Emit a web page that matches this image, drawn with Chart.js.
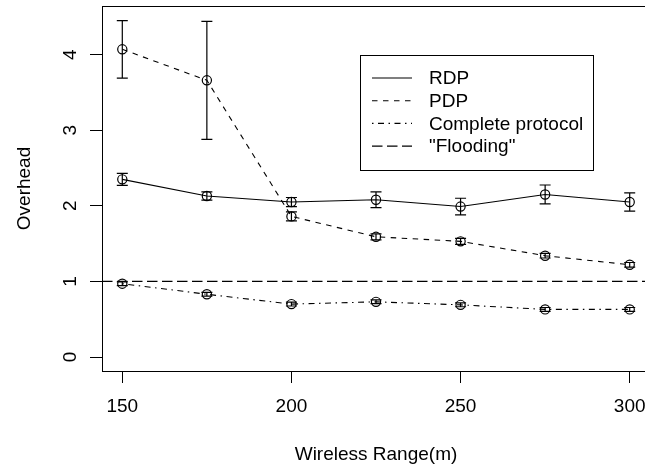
<!DOCTYPE html>
<html>
<head>
<meta charset="utf-8">
<script src="https://cdn.jsdelivr.net/npm/chart.js@4.4.1/dist/chart.umd.min.js"></script>
<style>
    html, body { margin: 0; padding: 0; background: #fff; overflow: hidden; }
    #wrap { width: 660px; height: 470px; }
</style>
</head>
<body>
<div id="wrap"><canvas id="overheadChart" width="660" height="470"></canvas></div>
<script>
// values
const ranges = [150, 175, 200, 225, 250, 275, 300];
const rdp = [2.35, 2.13, 2.05, 2.08, 1.99, 2.15, 2.05];
const rdpErr = [0.08, 0.055, 0.06, 0.105, 0.11, 0.125, 0.12];
const pdp = [4.07, 3.66, 1.86, 1.59, 1.53, 1.34, 1.22];
const pdpErr = [0.38, 0.78, 0.06, 0.04, 0.04, 0.03, 0.03];
const complete = [0.97, 0.83, 0.70, 0.73, 0.69, 0.63, 0.63];
const completeErr = [0.025, 0.025, 0.025, 0.025, 0.025, 0.025, 0.025];
const floodingLevel = 1;

const xTicks = [150, 200, 250, 300];
const yTicks = [0, 1, 2, 3, 4];
const xRange = [144, 306];
const yRange = [-0.185, 4.643];

document.addEventListener('DOMContentLoaded', function () {
    const canvas = document.getElementById('overheadChart');
    if (!canvas) return;

    const FONT = '"Liberation Sans", Arial, Helvetica, sans-serif';
    const FONT_SIZE = 19;
    Chart.defaults.font.family = FONT;
    Chart.defaults.font.size = FONT_SIZE;
    Chart.defaults.color = '#000';

    const toPoints = (vals) => vals.map((v, i) => ({ x: ranges[i], y: v }));

    // R-style box around the plot region
    const FramePlugin = {
        id: 'frame',
        afterDraw(chart) {
            const { ctx, chartArea: a } = chart;
            ctx.save();
            ctx.strokeStyle = '#000';
            ctx.lineWidth = 1;
            ctx.strokeRect(Math.round(a.left) + 0.5, Math.round(a.top) + 0.5,
                Math.round(a.right - a.left), Math.round(a.bottom - a.top));
            ctx.restore();
        }
    };

    // error bars with flat caps
    const ErrorBars = {
        id: 'errorBars',
        afterDatasetsDraw(chart) {
            const { ctx } = chart;
            const xs = chart.scales.x, ys = chart.scales.y;
            ctx.save();
            ctx.strokeStyle = '#000';
            ctx.lineWidth = 1.2;
            ctx.setLineDash([]);
            chart.data.datasets.forEach(ds => {
                if (!ds.errors) return;
                ds.data.forEach((p, i) => {
                    const e = ds.errors[i];
                    const px = xs.getPixelForValue(p.x);
                    const hi = ys.getPixelForValue(p.y + e);
                    const lo = ys.getPixelForValue(p.y - e);
                    ctx.beginPath();
                    ctx.moveTo(px, hi); ctx.lineTo(px, lo);
                    ctx.moveTo(px - 5.5, hi); ctx.lineTo(px + 5.5, hi);
                    ctx.moveTo(px - 5.5, lo); ctx.lineTo(px + 5.5, lo);
                    ctx.stroke();
                });
            });
            ctx.restore();
        }
    };

    // rotated y tick labels, parallel to the axis
    const YLabels = {
        id: 'yLabels',
        afterDraw(chart) {
            const { ctx } = chart;
            const ys = chart.scales.y;
            ctx.save();
            ctx.fillStyle = '#000';
            ctx.font = FONT_SIZE + 'px ' + FONT;
            ctx.textAlign = 'center';
            ctx.textBaseline = 'middle';
            yTicks.forEach(v => {
                ctx.save();
                ctx.translate(71, ys.getPixelForValue(v));
                ctx.rotate(-Math.PI / 2);
                ctx.fillText(String(v), 0, 0);
                ctx.restore();
            });
            ctx.restore();
        }
    };

    // boxed legend inside the plot, line samples + labels
    const BoxLegend = {
        id: 'boxLegend',
        afterDraw(chart) {
            const { ctx } = chart;
            ctx.save();
            ctx.fillStyle = '#fff';
            ctx.fillRect(360, 55, 233, 115);
            ctx.strokeStyle = '#000';
            ctx.lineWidth = 1;
            ctx.strokeRect(360.5, 55.5, 233, 115);
            ctx.font = FONT_SIZE + 'px ' + FONT;
            ctx.textBaseline = 'middle';
            ctx.textAlign = 'left';
            chart.data.datasets.forEach((ds, i) => {
                const y = 78 + i * 22.7;
                ctx.lineWidth = ds.borderWidth;
                ctx.setLineDash(ds.borderDash || []);
                ctx.beginPath();
                ctx.moveTo(372, y);
                ctx.lineTo(412, y);
                ctx.stroke();
                ctx.setLineDash([]);
                ctx.fillStyle = '#000';
                ctx.fillText(ds.label, 429, y + 1);
            });
            ctx.restore();
        }
    };

    const lineStyle = {
        borderColor: '#000',
        borderWidth: 1.1,
        tension: 0,
        pointStyle: 'circle',
        pointRadius: 4.6,
        pointBorderWidth: 1.2,
        pointBorderColor: '#000',
        pointBackgroundColor: 'rgba(0,0,0,0)',
        fill: false
    };

    new Chart(canvas, {
        type: 'line',
        data: {
            datasets: [
                Object.assign({ label: 'RDP', data: toPoints(rdp), errors: rdpErr, borderDash: [] }, lineStyle),
                Object.assign({ label: 'PDP', data: toPoints(pdp), errors: pdpErr, borderDash: [5.5, 5.5] }, lineStyle),
                Object.assign({ label: 'Complete protocol', data: toPoints(complete), errors: completeErr, borderDash: [1.5, 4.5, 6, 4.5] }, lineStyle),
                Object.assign({}, lineStyle, {
                    label: '"Flooding"',
                    data: [{ x: xRange[0], y: floodingLevel }, { x: xRange[1], y: floodingLevel }],
                    borderDash: [10.5, 4.5],
                    pointRadius: 0
                })
            ]
        },
        options: {
            responsive: false,
            animation: false,
            devicePixelRatio: 1,
            layout: { padding: { left: 0, top: 6, right: 10, bottom: 0 } },
            plugins: {
                legend: { display: false },
                tooltip: { enabled: false }
            },
            scales: {
                x: {
                    type: 'linear',
                    position: 'bottom',
                    min: xRange[0],
                    max: xRange[1],
                    afterBuildTicks: s => { s.ticks = xTicks.map(v => ({ value: v })); },
                    afterFit: s => { s.height = 99; },
                    grid: { drawOnChartArea: false, drawTicks: true, tickLength: 12, color: '#000', lineWidth: 1 },
                    border: { display: true, color: '#000', width: 1 },
                    ticks: { padding: 12, maxRotation: 0, autoSkip: false, color: '#000' },
                    title: { display: true, text: 'Wireless Range(m)', color: '#000', padding: { top: 0, bottom: 4 } }
                },
                y: {
                    type: 'linear',
                    position: 'left',
                    min: yRange[0],
                    max: yRange[1],
                    afterBuildTicks: s => { s.ticks = yTicks.map(v => ({ value: v })); },
                    afterFit: s => { s.width = 102; },
                    grid: { drawOnChartArea: false, drawTicks: true, tickLength: 12, color: '#000', lineWidth: 1 },
                    border: { display: true, color: '#000', width: 1 },
                    ticks: { display: false },
                    title: { display: true, text: 'Overhead', color: '#000', padding: { top: 13, bottom: 0 } }
                }
            }
        },
        plugins: [FramePlugin, ErrorBars, YLabels, BoxLegend]
    });
});
</script>
</body>
</html>
